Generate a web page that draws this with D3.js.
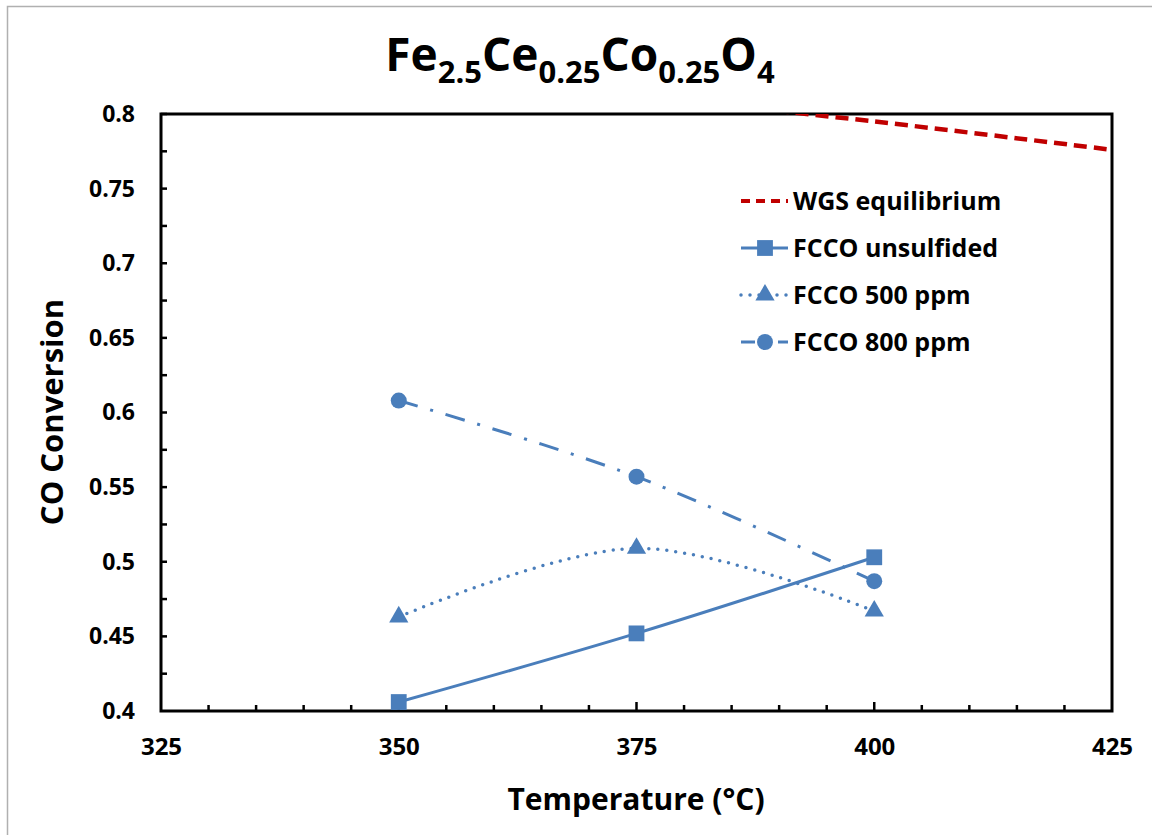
<!DOCTYPE html>
<html>
<head>
<meta charset="utf-8">
<script src="https://cdn.jsdelivr.net/npm/d3@7"></script>
<style>
  html, body { margin: 0; padding: 0; background: #fff; }
  svg text { font-family: "Open Sans", Lato, sans-serif; font-weight: 700; fill: #000; }
</style>
</head>
<body>
<svg id="chart" width="1152" height="835"></svg>
<script>
// Temperatures (°C) at which the catalyst was tested
const temperatures = [350, 375, 400];
// CO conversion for each catalyst condition
const unsulfided = [0.406, 0.452, 0.503];
const ppm500 = [0.463, 0.509, 0.467];
const ppm800 = [0.608, 0.557, 0.487];
// Water-gas-shift equilibrium limit
const eqTemps = [375, 400, 425];
const eqConversion = [0.812, 0.795, 0.776];

const xTicks = [325, 350, 375, 400, 425];
const yTicks = [0.4, 0.45, 0.5, 0.55, 0.6, 0.65, 0.7, 0.75, 0.8];
const seriesNames = ["WGS equilibrium", "FCCO unsulfided", "FCCO 500 ppm", "FCCO 800 ppm"];

const svg = d3.select("#chart");
const W = 1152, H = 835;
const m = { left: 161, right: 1112, top: 114, bottom: 711 };

const x = d3.scaleLinear().domain([325, 425]).range([m.left, m.right]);
const y = d3.scaleLinear().domain([0.4, 0.8]).range([m.bottom, m.top]);

const blue = "#4A7EBB";
const red = "#C00000";

// outer chart frame
svg.append("rect").attr("x", 7.5).attr("y", 6.5).attr("width", W).attr("height", H)
  .attr("fill", "none").attr("stroke", "#b0b0b0").attr("stroke-width", 1.5);

// title with chemical subscripts
const title = svg.append("text").attr("x", 580).attr("y", 71)
  .attr("text-anchor", "middle").style("font-size", "46px");
[["Fe", false], ["2.5", true], ["Ce", false], ["0.25", true], ["Co", false], ["0.25", true], ["O", false], ["4", true]]
  .forEach(([t, sub], i) => {
    const ts = title.append("tspan").text(t);
    if (sub) { ts.style("font-size", "31px").attr("dy", 12); }
    else if (i > 0) { ts.attr("dy", -12); }
  });

svg.append("defs").append("clipPath").attr("id", "plotClip")
  .append("rect").attr("x", m.left).attr("y", m.top)
  .attr("width", m.right - m.left).attr("height", m.bottom - m.top);

// minor tick marks (inside the plot)
const xMinor = d3.range(330, 425, 5);
svg.append("g").selectAll("line").data(xMinor).join("line")
  .attr("x1", d => x(d)).attr("x2", d => x(d))
  .attr("y1", m.bottom).attr("y2", d => m.bottom - (d % 25 === 0 ? 9 : 6))
  .attr("stroke", "#000").attr("stroke-width", 2.5);
const yMinor = d3.range(0.425, 0.8, 0.025);
svg.append("g").selectAll("line").data(yMinor).join("line")
  .attr("y1", d => y(d)).attr("y2", d => y(d))
  .attr("x1", m.left).attr("x2", m.left + 6)
  .attr("stroke", "#000").attr("stroke-width", 2.5);

// plot frame
svg.append("rect").attr("x", m.left).attr("y", m.top)
  .attr("width", m.right - m.left).attr("height", m.bottom - m.top)
  .attr("fill", "none").attr("stroke", "#000").attr("stroke-width", 3);

// tick labels
const xAxis = d3.axisBottom(x).tickValues(xTicks).tickSize(0).tickPadding(27).tickFormat(d3.format("d"));
svg.append("g").attr("transform", `translate(0,${m.bottom})`).call(xAxis)
  .call(g => g.select(".domain").remove())
  .selectAll("text").style("font-size", "24px").style("font-family", "'Open Sans', sans-serif").attr("font-weight", 700);
const yAxis = d3.axisLeft(y).tickValues(yTicks).tickSize(0).tickPadding(26).tickFormat(d => String(+d.toFixed(2)));
svg.append("g").attr("transform", `translate(${m.left},0)`).call(yAxis)
  .call(g => g.select(".domain").remove())
  .selectAll("text").style("font-size", "23px").style("font-family", "'Open Sans', sans-serif").attr("font-weight", 700);

// axis titles
svg.append("text").attr("x", 636).attr("y", 810).attr("text-anchor", "middle")
  .style("font-size", "30px").text("Temperature (°C)");
svg.append("text").attr("transform", "translate(63,412) rotate(-90)").attr("text-anchor", "middle")
  .style("font-size", "31px").text("CO Conversion");

const plot = svg.append("g").attr("clip-path", "url(#plotClip)");
const smooth = d3.line().x(d => x(d[0])).y(d => y(d[1])).curve(d3.curveCardinal.tension(0));

// equilibrium curve
plot.append("path").datum(d3.zip(eqTemps, eqConversion))
  .attr("d", smooth).attr("fill", "none").attr("stroke", red)
  .attr("stroke-width", 4.5).attr("stroke-dasharray", "13,7");

const series = [
  { vals: unsulfided, dash: null, cap: "butt", shape: d3.symbolSquare, size: 250 },
  { vals: ppm500, dash: "0,9", cap: "round", shape: d3.symbolTriangle, size: 160 },
  { vals: ppm800, dash: "20,13,3,13", cap: "butt", shape: d3.symbolCircle, size: 200 }
];

series.forEach(s => {
  const pts = d3.zip(temperatures, s.vals);
  plot.append("path").datum(pts).attr("d", smooth).attr("fill", "none")
    .attr("stroke", blue).attr("stroke-width", s.cap === "round" ? 3.5 : 3)
    .attr("stroke-linecap", s.cap).attr("stroke-dasharray", s.dash);
  plot.append("g").selectAll("path").data(pts).join("path")
    .attr("transform", d => `translate(${x(d[0])},${y(d[1])})`)
    .attr("d", d3.symbol(s.shape, s.size)).attr("fill", blue);
});

// legend
const legend = svg.append("g");
const rowY = [201, 248, 295, 342];
const legendStyles = [
  { color: red, dash: "9,6", width: 4, cap: "butt", shape: null },
  { color: blue, dash: null, width: 3, cap: "butt", shape: d3.symbolSquare, size: 250 },
  { color: blue, dash: "0,9", width: 3.5, cap: "round", shape: d3.symbolTriangle, size: 160 },
  { color: blue, dash: "14,10,3,10", width: 3, cap: "butt", shape: d3.symbolCircle, size: 200 }
];
seriesNames.forEach((name, i) => {
  const st = legendStyles[i], ry = rowY[i];
  legend.append("line").attr("x1", 741).attr("x2", 788).attr("y1", ry).attr("y2", ry)
    .attr("stroke", st.color).attr("stroke-width", st.width)
    .attr("stroke-linecap", st.cap).attr("stroke-dasharray", st.dash);
  if (st.shape) {
    legend.append("path").attr("transform", `translate(765,${ry})`)
      .attr("d", d3.symbol(st.shape, st.size)).attr("fill", st.color);
  }
  legend.append("text").attr("x", 793).attr("y", ry + 9).style("font-size", "25px").text(name);
});
</script>
</body>
</html>
